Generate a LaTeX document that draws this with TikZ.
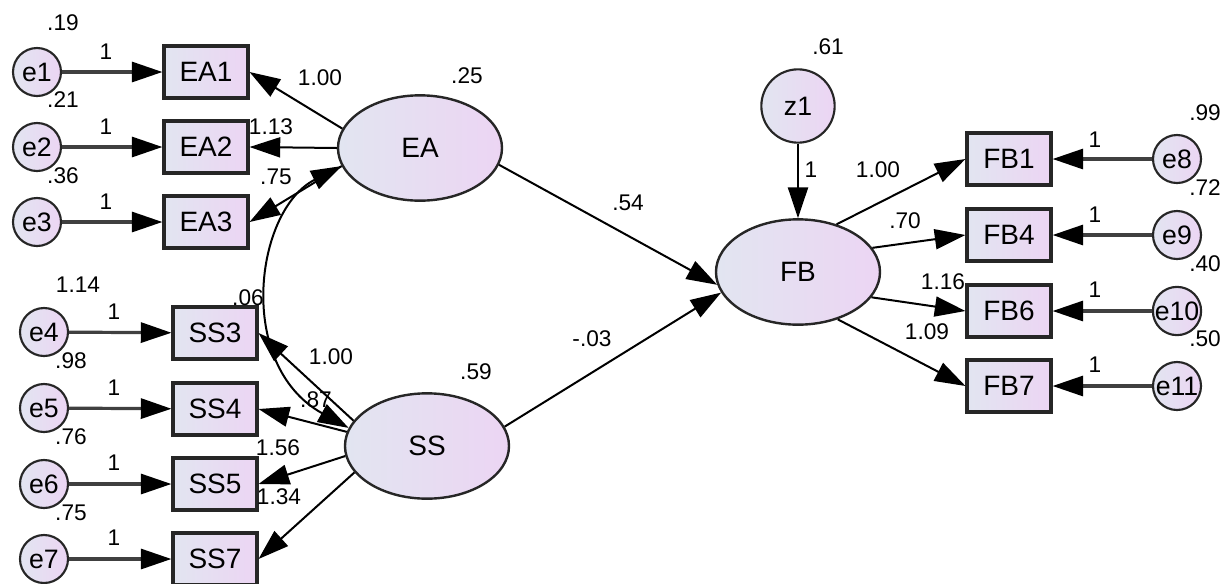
\documentclass[tikz,border=0pt]{standalone}
\usepackage{fontspec}
\setmainfont{Liberation Sans}
\usetikzlibrary{shapes.geometric,arrows.meta}
\definecolor{amosL}{RGB}{226,229,241}
\definecolor{amosR}{RGB}{236,213,243}
\tikzset{
  obs/.style={draw=black!85,line width=2.3pt,left color=amosL,right color=amosR,minimum width=63pt,minimum height=39pt,inner sep=0pt,font=\fontsize{21}{24}\selectfont},
  lat/.style={ellipse,draw=black!85,line width=1.8pt,left color=amosL,right color=amosR,minimum width=123pt,minimum height=79pt,inner sep=0pt,font=\fontsize{21}{24}\selectfont},
  err/.style={circle,draw=black!85,line width=1.6pt,left color=amosL,right color=amosR,minimum size=36pt,inner sep=0pt,font=\fontsize{20}{22}\selectfont},
  est/.style={inner sep=0pt,font=\fontsize{17}{19}\selectfont},
  reg/.style={line width=1.5pt,-{Triangle[length=23pt,width=15pt]}},
  ind/.style={line width=2.4pt,draw=black!75,-{Triangle[length=23pt,width=15pt,color=black]}},
  cov/.style={line width=1.5pt,{Triangle[length=23pt,width=15pt]}-{Triangle[length=23pt,width=15pt]}}
}
\begin{document}
\begin{tikzpicture}[x=0.75pt,y=0.75pt,yscale=-1]
\useasboundingbox (0,0) rectangle (1229,583);

\node[err] (e1) at (37,72) {e1};
\node[err] (e2) at (37,147) {e2};
\node[err] (e3) at (37,222) {e3};
\node[err] (e4) at (44,332) {e4};
\node[err] (e5) at (44,408) {e5};
\node[err] (e6) at (44,484) {e6};
\node[err] (e7) at (44,559) {e7};
\node[err] (e8) at (1177,159) {e8};
\node[err] (e9) at (1177,235) {e9};
\node[err] (e10) at (1177,311) {e10};
\node[err] (e11) at (1177,386) {e11};
\node[err,minimum size=55pt] (z1) at (798,106) {z1};

\node[obs] (EA1) at (206,72) {EA1};
\node[obs] (EA2) at (206,147) {EA2};
\node[obs] (EA3) at (206,222) {EA3};
\node[obs] (SS3) at (215,333) {SS3};
\node[obs] (SS4) at (215,409) {SS4};
\node[obs] (SS5) at (215,484) {SS5};
\node[obs] (SS7) at (215,559) {SS7};
\node[obs] (FB1) at (1009,159) {FB1};
\node[obs] (FB4) at (1009,235) {FB4};
\node[obs] (FB6) at (1009,311) {FB6};
\node[obs] (FB7) at (1009,386) {FB7};

\node[lat] (EA) at (420,148) {EA};
\node[lat] (SS) at (427,446) {SS};
\node[lat] (FB) at (798,272) {FB};

\draw[ind] (e1) -- (EA1);
\draw[ind] (e2) -- (EA2);
\draw[ind] (e3) -- (EA3);
\draw[ind] (e4) -- (SS3);
\draw[ind] (e5) -- (SS4);
\draw[ind] (e6) -- (SS5);
\draw[ind] (e7) -- (SS7);
\draw[ind] (e8) -- (FB1);
\draw[ind] (e9) -- (FB4);
\draw[ind] (e10) -- (FB6);
\draw[ind] (e11) -- (FB7);

\draw[reg] (EA.166) -- (EA1.east);
\draw[reg] (EA.180) -- (EA2.east);
\draw[reg] (EA.193) -- (EA3.east);
\draw[reg] (SS.161) -- (SS3.east);
\draw[reg] (SS.170) -- (SS4.east);
\draw[reg] (SS.187) -- (SS5.east);
\draw[reg] (SS.200) -- (SS7.east);
\draw[reg] (EA.348) -- (FB.189);
\draw[reg] (SS.14) -- (FB.195);
\draw[reg] (z1) -- (FB);
\draw[reg] (FB.51) -- (FB1.west);
\draw[reg] (FB.18) -- (FB4.west);
\draw[reg] (FB.341) -- (FB6.west);
\draw[reg] (FB.310) -- (FB7.west);
\draw[cov] (EA.193) .. controls (255,210) and (235,365) .. (SS.167);

\node[est] (ve1) at (63,23) {.19};
\node[est] (ve2) at (63,100) {.21};
\node[est] (ve3) at (63,176) {.36};
\node[est] (ve4) at (78,285) {1.14};
\node[est] (ve5) at (71,361) {.98};
\node[est] (ve6) at (71,437) {.76};
\node[est] (ve7) at (71,513) {.75};
\node[est] (ve8) at (1205,113) {.99};
\node[est] (ve9) at (1205,188) {.72};
\node[est] (ve10) at (1205,264) {.40};
\node[est] (ve11) at (1205,339) {.50};
\node[est] (vz1) at (828,47) {.61};
\node[est] (vEA) at (467,76) {.25};
\node[est] (vSS) at (476,372) {.59};

\node[est] (w1) at (106,52) {1};
\node[est] (w2) at (106,127) {1};
\node[est] (w3) at (106,202) {1};
\node[est] (w4) at (114,312) {1};
\node[est] (w5) at (114,388) {1};
\node[est] (w6) at (114,463) {1};
\node[est] (w7) at (114,538) {1};
\node[est] (w8) at (1095,140) {1};
\node[est] (w9) at (1095,215) {1};
\node[est] (w10) at (1095,290) {1};
\node[est] (w11) at (1095,365) {1};
\node[est] (wz1) at (811,170) {1};

\node[est] (lEA1) at (320,78) {1.00};
\node[est] (lEA2) at (271,127) {1.13};
\node[est] (lEA3) at (276,177) {.75};
\node[est] (lSS3) at (331,357) {1.00};
\node[est] (lSS4) at (316,400) {.87};
\node[est] (lSS5) at (278,448) {1.56};
\node[est] (lSS7) at (279,497) {1.34};
\node[est] (lFB1) at (878,170) {1.00};
\node[est] (lFB4) at (905,221) {.70};
\node[est] (lFB6) at (943,282) {1.16};
\node[est] (lFB7) at (927,332) {1.09};
\node[est] (bEA) at (628,203) {.54};
\node[est] (bSS) at (592,339) {-.03};
\node[est] (cEASS) at (248,298) {.06};

\end{tikzpicture}
\end{document}
